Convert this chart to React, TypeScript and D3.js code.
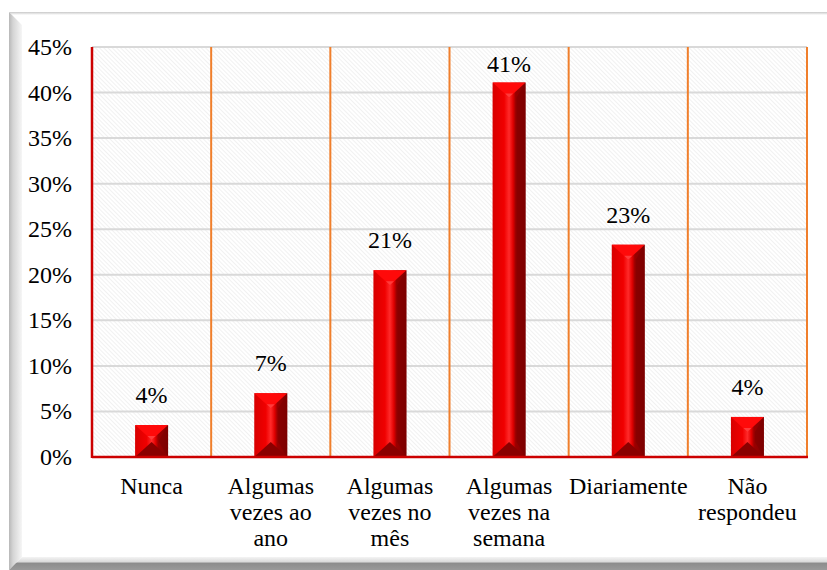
import React from "react";
import * as d3 from "d3";

const categories: string[][] = [
  ["Nunca"],
  ["Algumas", "vezes ao", "ano"],
  ["Algumas", "vezes no", "mês"],
  ["Algumas", "vezes na", "semana"],
  ["Diariamente"],
  ["Não", "respondeu"],
];
const values: number[] = [3.5, 7.0, 20.5, 41.1, 23.3, 4.4];
const valueLabels: string[] = ["4%", "7%", "21%", "41%", "23%", "4%"];
const yTicks: number[] = [0, 5, 10, 15, 20, 25, 30, 35, 40, 45];

const W = 827;
const H = 570;
const plot = { left: 92, right: 807, top: 47, bottom: 457 };
const FF = "Liberation Serif";

export default function App() {
  const x = d3
    .scaleBand<number>()
    .domain(d3.range(categories.length))
    .range([plot.left, plot.right])
    .paddingInner(0)
    .paddingOuter(0);
  const y = d3.scaleLinear().domain([0, 45]).range([plot.bottom, plot.top]);
  const bw = 33;
  const bevel = 15;

  return (
    <svg
      width={W}
      height={H}
      style={{ position: "absolute", left: 0, top: 0, display: "block" }}
    >
      <defs>
        <pattern id="hatch" width="3" height="3" patternUnits="userSpaceOnUse" patternTransform="rotate(-45)">
          <rect width="3" height="3" fill="#ffffff" />
          <line x1="0" y1="0" x2="0" y2="3" stroke="#e4e4e4" strokeWidth="1" />
        </pattern>
        <linearGradient id="leftBevel" x1="0" x2="1" y1="0" y2="0">
          <stop offset="0" stopColor="#b8b8b8" />
          <stop offset="0.3" stopColor="#d4d4d4" />
          <stop offset="1" stopColor="#f6f6f6" />
        </linearGradient>
        <linearGradient id="bottomBevel" x1="0" x2="0" y1="0" y2="1">
          <stop offset="0" stopColor="#f4f4f4" />
          <stop offset="0.4" stopColor="#d8d8d8" />
          <stop offset="0.45" stopColor="#8c8c8c" />
          <stop offset="1" stopColor="#9a9a9a" />
        </linearGradient>
        <linearGradient id="topBevel" x1="0" x2="0" y1="0" y2="1">
          <stop offset="0" stopColor="#c8c8c8" />
          <stop offset="1" stopColor="#ffffff" />
        </linearGradient>
        <linearGradient id="barFace" x1="0" x2="1" y1="0" y2="0">
          <stop offset="0" stopColor="#d80000" />
          <stop offset="0.35" stopColor="#f00000" />
          <stop offset="0.5" stopColor="#ff2a2a" />
          <stop offset="0.62" stopColor="#e00000" />
          <stop offset="0.7" stopColor="#9a0000" />
          <stop offset="1" stopColor="#800000" />
        </linearGradient>
      </defs>

      {/* frame */}
      <rect x={0} y={0} width={W} height={H} fill="#ffffff" />
      <rect x={9} y={12} width={W - 9} height={H - 12} fill="#ffffff" />
      <polygon points={`9,12 ${W},12 ${W},15 12,15`} fill="url(#topBevel)" />
      <polygon points={`9,12 22,25 22,557 9,570`} fill="url(#leftBevel)" />
      <polygon points={`9,570 22,557 ${W},557 ${W},570`} fill="url(#bottomBevel)" />

      {/* plot background */}
      <rect
        x={plot.left}
        y={plot.top}
        width={plot.right - plot.left}
        height={plot.bottom - plot.top}
        fill="url(#hatch)"
      />

      {/* gridlines */}
      {yTicks.map((t) => (
        <line
          key={"g" + t}
          x1={plot.left}
          x2={plot.right}
          y1={y(t)}
          y2={y(t)}
          stroke="#d9d9d9"
          strokeWidth={2}
        />
      ))}

      {/* orange separators */}
      {d3.range(1, categories.length + 1).map((i) => {
        const xx = i < categories.length ? (x(i) as number) : plot.right;
        return (
          <line
            key={"s" + i}
            x1={xx}
            x2={xx}
            y1={plot.top}
            y2={plot.bottom}
            stroke="#f07f2c"
            strokeWidth={2}
          />
        );
      })}

      {/* bars */}
      {values.map((v, i) => {
        const cx = (x(i) as number) + x.bandwidth() / 2;
        const x0 = cx - bw / 2;
        const x1 = cx + bw / 2;
        const top = y(v);
        const bot = y(0);
        const h = bot - top;
        const bv = Math.min(bevel, h / 2);
        return (
          <g key={"b" + i}>
            <rect x={x0} y={top} width={bw} height={h} fill="url(#barFace)" />
            <polygon points={`${x0},${top} ${x1},${top} ${cx},${top + bv}`} fill="#ff0a0a" />
            <polygon
              points={`${cx - 4},${top + bv - 4} ${cx + 4},${top + bv - 4} ${cx},${top + bv}`}
              fill="#ff5050"
              opacity={0.7}
            />
            <polygon points={`${x0},${bot} ${x1},${bot} ${cx},${bot - bv}`} fill="#8a0000" />
            <polygon points={`${x1},${top} ${x1},${bot} ${x1 - 9},${bot - bv} ${x1 - 9},${top + bv}`} fill="#7a0000" opacity={0.5} />
          </g>
        );
      })}

      {/* axes */}
      <line x1={plot.left} x2={plot.left} y1={plot.top} y2={plot.bottom + 1} stroke="#cc0000" strokeWidth={2.5} />
      <line x1={plot.left} x2={plot.right + 1} y1={plot.bottom} y2={plot.bottom} stroke="#cc0000" strokeWidth={2.5} />

      {/* y tick labels */}
      {yTicks.map((t) => (
        <text key={"t" + t} x={72} y={y(t) + 8} textAnchor="end" fill="#000" fontFamily={FF} fontSize={24}>
          {t + "%"}
        </text>
      ))}

      {/* value labels */}
      {values.map((v, i) => {
        const cx = (x(i) as number) + x.bandwidth() / 2;
        const yy = Math.max(y(v) - 22, 72);
        return (
          <text key={"v" + i} x={cx} y={yy} textAnchor="middle" fill="#000" fontFamily={FF} fontSize={24}>
            {valueLabels[i]}
          </text>
        );
      })}

      {/* category labels */}
      {categories.map((lines, i) => {
        const cx = (x(i) as number) + x.bandwidth() / 2;
        return (
          <text key={"c" + i} x={cx} y={494} textAnchor="middle" fill="#000" fontFamily={FF} fontSize={24}>
            {lines.map((l, j) => (
              <tspan key={j} x={cx} dy={j === 0 ? 0 : 26}>
                {l}
              </tspan>
            ))}
          </text>
        );
      })}
    </svg>
  );
}
